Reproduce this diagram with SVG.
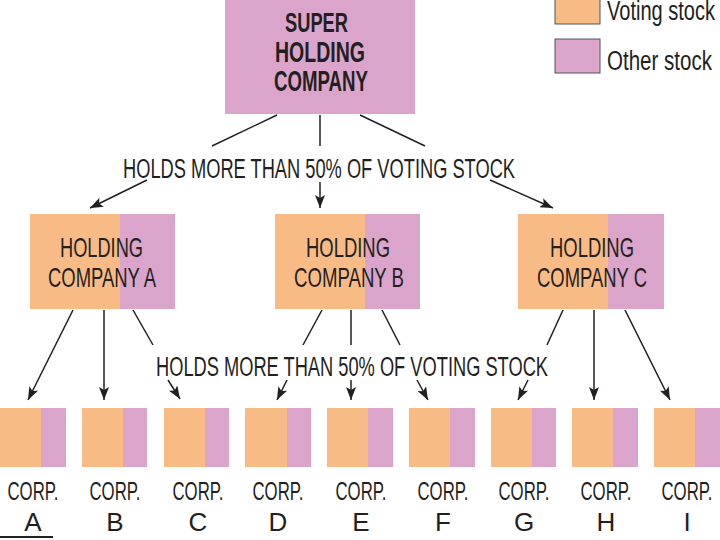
<svg xmlns="http://www.w3.org/2000/svg" width="720" height="540" viewBox="0 0 720 540">
<style>
.o{fill:#F9BB86}
.p{fill:#DBA5CB}
.t{font-family:"Liberation Sans",Arial,sans-serif;fill:#231F20}
.b{font-weight:bold}
.ln{stroke:#231F20;stroke-width:1.5;fill:none}
.ar{stroke:#231F20;stroke-width:1.5;fill:none;marker-end:url(#ah)}
</style>
<defs>
<marker id="ah" markerUnits="userSpaceOnUse" markerWidth="14" markerHeight="10" refX="13" refY="5" orient="auto">
<path d="M0,0 L13,5 L0,10 L3,5 Z" fill="#231F20"/>
</marker>
</defs>
<rect width="720" height="540" fill="#ffffff"/>

<g id="legend">
<rect x="555" y="-2" width="45" height="26" class="o" stroke="#555" stroke-width="1"/>
<rect x="555" y="39" width="45" height="34" class="p" stroke="#555" stroke-width="1"/>
<text class="t" x="607" y="20" font-size="27" textLength="108" lengthAdjust="spacingAndGlyphs">Voting stock</text>
<text class="t" x="607" y="70" font-size="27" textLength="105" lengthAdjust="spacingAndGlyphs">Other stock</text>
</g>

<g id="super">
<rect x="225" y="0" width="190" height="114" class="p"/>
<text class="t b" x="285" y="32" font-size="27" textLength="63" lengthAdjust="spacingAndGlyphs">SUPER</text>
<text class="t b" x="275" y="62" font-size="29" textLength="90" lengthAdjust="spacingAndGlyphs">HOLDING</text>
<text class="t b" x="274" y="91" font-size="29" textLength="94" lengthAdjust="spacingAndGlyphs">COMPANY</text>
</g>

<g id="labels">
<text class="t" x="123" y="178" font-size="27" textLength="392" lengthAdjust="spacingAndGlyphs">HOLDS MORE THAN 50% OF VOTING STOCK</text>
<text class="t" x="156" y="376" font-size="27" textLength="392" lengthAdjust="spacingAndGlyphs">HOLDS MORE THAN 50% OF VOTING STOCK</text>
</g>

<g id="holdingA">
<rect x="30" y="214" width="90" height="95" class="o"/>
<rect x="120" y="214" width="55" height="95" class="p"/>
<text class="t" x="60" y="257" font-size="28" textLength="83" lengthAdjust="spacingAndGlyphs">HOLDING</text>
<text class="t" x="48" y="287" font-size="28" textLength="108" lengthAdjust="spacingAndGlyphs">COMPANY A</text>
</g>
<g id="holdingB">
<rect x="275" y="214" width="90" height="95" class="o"/>
<rect x="365" y="214" width="55" height="95" class="p"/>
<text class="t" x="306" y="257" font-size="28" textLength="84" lengthAdjust="spacingAndGlyphs">HOLDING</text>
<text class="t" x="294" y="287" font-size="28" textLength="110" lengthAdjust="spacingAndGlyphs">COMPANY B</text>
</g>
<g id="holdingC">
<rect x="518" y="214" width="90" height="95" class="o"/>
<rect x="608" y="214" width="56" height="95" class="p"/>
<text class="t" x="550" y="257" font-size="28" textLength="84" lengthAdjust="spacingAndGlyphs">HOLDING</text>
<text class="t" x="537" y="287" font-size="28" textLength="110" lengthAdjust="spacingAndGlyphs">COMPANY C</text>
</g>

<g id="corpA"><rect x="0" y="408" width="41" height="59" class="o"/><rect x="41" y="408" width="25" height="59" class="p"/>
<text class="t" x="33" y="500" font-size="26" text-anchor="middle" textLength="51" lengthAdjust="spacingAndGlyphs">CORP.</text><text class="t" x="33" y="531" font-size="26" text-anchor="middle">A</text></g>
<g id="corpB"><rect x="82" y="408" width="41" height="59" class="o"/><rect x="123" y="408" width="24" height="59" class="p"/>
<text class="t" x="115" y="500" font-size="26" text-anchor="middle" textLength="51" lengthAdjust="spacingAndGlyphs">CORP.</text><text class="t" x="115" y="531" font-size="26" text-anchor="middle">B</text></g>
<g id="corpC"><rect x="164" y="408" width="41" height="59" class="o"/><rect x="205" y="408" width="24" height="59" class="p"/>
<text class="t" x="198" y="500" font-size="26" text-anchor="middle" textLength="51" lengthAdjust="spacingAndGlyphs">CORP.</text><text class="t" x="198" y="531" font-size="26" text-anchor="middle">C</text></g>
<g id="corpD"><rect x="245" y="408" width="42" height="59" class="o"/><rect x="287" y="408" width="24" height="59" class="p"/>
<text class="t" x="278" y="500" font-size="26" text-anchor="middle" textLength="51" lengthAdjust="spacingAndGlyphs">CORP.</text><text class="t" x="278" y="531" font-size="26" text-anchor="middle">D</text></g>
<g id="corpE"><rect x="327" y="408" width="41" height="59" class="o"/><rect x="368" y="408" width="25" height="59" class="p"/>
<text class="t" x="361" y="500" font-size="26" text-anchor="middle" textLength="51" lengthAdjust="spacingAndGlyphs">CORP.</text><text class="t" x="361" y="531" font-size="26" text-anchor="middle">E</text></g>
<g id="corpF"><rect x="409" y="408" width="41" height="59" class="o"/><rect x="450" y="408" width="25" height="59" class="p"/>
<text class="t" x="443" y="500" font-size="26" text-anchor="middle" textLength="51" lengthAdjust="spacingAndGlyphs">CORP.</text><text class="t" x="443" y="531" font-size="26" text-anchor="middle">F</text></g>
<g id="corpG"><rect x="491" y="408" width="41" height="59" class="o"/><rect x="532" y="408" width="24" height="59" class="p"/>
<text class="t" x="524" y="500" font-size="26" text-anchor="middle" textLength="51" lengthAdjust="spacingAndGlyphs">CORP.</text><text class="t" x="524" y="531" font-size="26" text-anchor="middle">G</text></g>
<g id="corpH"><rect x="572" y="408" width="41" height="59" class="o"/><rect x="613" y="408" width="25" height="59" class="p"/>
<text class="t" x="606" y="500" font-size="26" text-anchor="middle" textLength="51" lengthAdjust="spacingAndGlyphs">CORP.</text><text class="t" x="606" y="531" font-size="26" text-anchor="middle">H</text></g>
<g id="corpI"><rect x="654" y="408" width="41" height="59" class="o"/><rect x="695" y="408" width="25" height="59" class="p"/>
<text class="t" x="687" y="500" font-size="26" text-anchor="middle" textLength="51" lengthAdjust="spacingAndGlyphs">CORP.</text><text class="t" x="687" y="531" font-size="26" text-anchor="middle">I</text></g>

<g id="connectors">
<line class="ln" x1="277" y1="115" x2="212" y2="146"/>
<line class="ln" x1="320" y1="115" x2="320" y2="146"/>
<line class="ln" x1="360" y1="115" x2="425" y2="146"/>
<line class="ar" x1="147" y1="180" x2="90" y2="208"/>
<line class="ar" x1="320" y1="182" x2="320" y2="208"/>
<line class="ar" x1="490" y1="180" x2="553" y2="208"/>

<line class="ar" x1="73" y1="310" x2="28" y2="400"/>
<line class="ar" x1="104" y1="310" x2="104" y2="400"/>
<line class="ln" x1="133" y1="310" x2="153" y2="345"/>
<line class="ar" x1="168" y1="380" x2="180" y2="399"/>

<line class="ln" x1="322" y1="310" x2="303" y2="345"/>
<line class="ar" x1="287" y1="380" x2="277" y2="400"/>
<line class="ln" x1="351" y1="310" x2="351" y2="345"/>
<line class="ar" x1="351" y1="380" x2="351" y2="400"/>
<line class="ln" x1="382" y1="310" x2="400" y2="345"/>
<line class="ar" x1="417" y1="380" x2="428" y2="400"/>

<line class="ln" x1="563" y1="310" x2="547" y2="345"/>
<line class="ar" x1="528" y1="380" x2="518" y2="400"/>
<line class="ar" x1="594" y1="310" x2="594" y2="400"/>
<line class="ar" x1="625" y1="310" x2="670" y2="400"/>
</g>
<rect x="0" y="536" width="53" height="2" fill="#231F20"/>
</svg>
